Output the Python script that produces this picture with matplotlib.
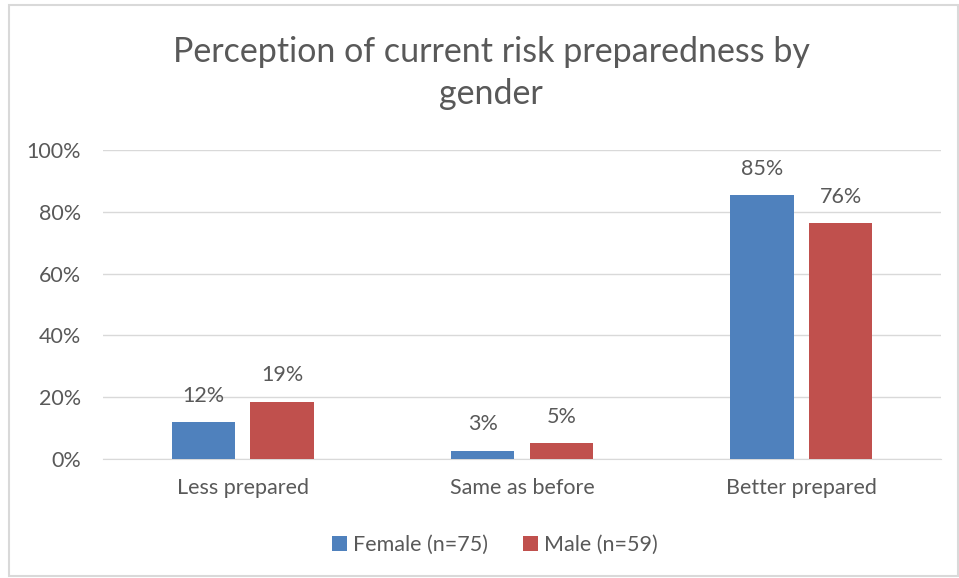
import numpy as np
import matplotlib
matplotlib.use("Agg")
import matplotlib.pyplot as plt
from matplotlib.patches import Rectangle

categories = ["Less prepared", "Same as before", "Better prepared"]
female = [12.0, 2.7, 85.3]
male = [18.6, 5.1, 76.3]
series_names = ["Female (n=75)", "Male (n=59)"]
title = "Perception of current risk preparedness by\ngender"

plt.rcParams["font.family"] = ["Lato", "DejaVu Sans"]
TXT = "#595959"
BLUE = "#4F81BD"
RED = "#C0504D"
FS = 15.5

fig = plt.figure(figsize=(9.59, 5.78), dpi=100)
ax = fig.add_axes([103 / 959, 1 - 459 / 578, 838 / 959, 309 / 578])

x = np.arange(len(categories))
w = 0.226
off = 0.141
b1 = ax.bar(x - off, female, w, color=BLUE, label=series_names[0], zorder=3)
b2 = ax.bar(x + off, male, w, color=RED, label=series_names[1], zorder=3)

for bars, vals in ((b1, female), (b2, male)):
    for rect, v in zip(bars, vals):
        ax.text(rect.get_x() + rect.get_width() / 2, v + 8.5, f"{v:.0f}%",
                ha="center", va="center", fontsize=FS, color=TXT)

ax.set_xlim(-0.5, 2.5)
ax.set_ylim(0, 100)
ax.set_yticks(np.arange(0, 101, 20))
ax.set_yticklabels([f"{t}%" for t in range(0, 101, 20)])
ax.set_xticks(x)
ax.set_xticklabels(categories)
ax.tick_params(axis="both", length=0, labelsize=FS, labelcolor=TXT)
ax.tick_params(axis="y", pad=16)
ax.tick_params(axis="x", pad=14)
ax.grid(axis="y", color="#D9D9D9", lw=1, zorder=0)
for s in ("top", "right", "left"):
    ax.spines[s].set_visible(False)
ax.spines["bottom"].set_color("#D9D9D9")

fig.text(491 / 959, 1 - 73 / 578, title, ha="center", va="center",
         fontsize=24.5, color=TXT, linespacing=1.38)

fig.legend(loc="center", bbox_to_anchor=(495 / 959, 1 - 545 / 578), ncol=2,
           frameon=False, fontsize=FS, labelcolor=TXT, handlelength=0.7,
           handleheight=0.7, handletextpad=0.3, columnspacing=1.6)

fig.patches.append(Rectangle((9 / 959, 2 / 578), 949 / 959, 571 / 578,
                             transform=fig.transFigure, fill=False,
                             edgecolor="#D9D9D9", lw=1.5))

fig.savefig("out.png", dpi=100)
